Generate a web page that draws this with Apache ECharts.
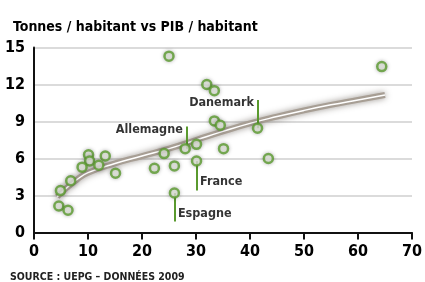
<!DOCTYPE html>
<html>
<head>
<meta charset="utf-8">
<script src="https://cdn.jsdelivr.net/npm/echarts@6/dist/echarts.min.js"></script>
<style>
  html, body { margin: 0; padding: 0; background: #fff; }
  #chart { width: 425px; height: 282px; }
</style>
</head>
<body>
<div id="chart"></div>
<script>
// PIB / habitant (x) vs tonnes / habitant (y)
var countries = [
    [25.0, 14.3], [32.0, 12.0], [33.4, 11.5], [64.4, 13.45],
    [33.4, 9.05], [34.5, 8.7], [41.4, 8.45],
    [10.1, 6.3], [13.2, 6.2], [10.3, 5.8], [8.9, 5.3], [12.0, 5.45],
    [15.1, 4.8], [6.8, 4.2], [4.9, 3.4], [4.6, 2.15], [6.3, 1.8],
    [24.1, 6.4], [22.3, 5.2], [26.0, 5.4], [28.0, 6.8], [30.1, 7.15],
    [30.1, 5.8], [26.0, 3.2], [35.1, 6.8], [43.4, 6.0]
];
// courbe de tendance
var trend = [
    [4.3, 2.9], [6, 3.6], [8, 4.3], [10, 4.85], [15, 5.6], [20, 6.2], [25, 6.8],
    [30, 7.5], [35, 8.2], [40, 8.85], [45, 9.4], [50, 9.9], [55, 10.35],
    [60, 10.75], [65, 11.15]
];
// pays nommés : point, extrémité du trait, position du texte
var named = [
    { name: "Danemark", from: [41.4, 8.45], to: [41.4, 10.75], pos: "left", offset: [0, 3] },
    { name: "Allemagne", from: [28.2, 6.8], to: [28.2, 8.6], pos: "left", offset: [0, 3] },
    { name: "France", from: [30.1, 5.8], to: [30.1, 3.4], pos: "right", offset: [0, -9] },
    { name: "Espagne", from: [26.0, 3.2], to: [26.0, 0.9], pos: "right", offset: [0, -8] }
];
var xTicks = { min: 0, max: 70, interval: 10 };
var yTicks = { min: 0, max: 15, interval: 3 };

var font = '"DejaVu Sans Condensed", "Liberation Sans Narrow", "DejaVu Sans", sans-serif';
var green = "#5a9a2e";

var myChart = echarts.init(document.getElementById("chart"), null, { renderer: "canvas" });

myChart.setOption({
    animation: false,
    title: {
        text: "Tonnes / habitant vs PIB / habitant",
        left: 8,
        top: 15,
        textStyle: { fontFamily: font, fontWeight: "bold", fontSize: 14, color: "#000" }
    },
    graphic: [{
        type: "text",
        left: 10,
        top: 272,
        style: { text: "SOURCE : UEPG – DONNÉES 2009", font: "bold 10.5px " + font, fill: "#222" }
    }],
    grid: { left: 34, right: 6.5, top: 47.5, bottom: 49.5 },
    xAxis: {
        type: "value",
        min: xTicks.min, max: xTicks.max, interval: xTicks.interval,
        axisLine: { lineStyle: { color: "#111", width: 2 } },
        axisTick: { show: true, length: 7, lineStyle: { color: "#111", width: 2 } },
        splitLine: { show: false },
        axisLabel: { margin: 11, fontFamily: font, fontWeight: "bold", fontSize: 16, color: "#000" }
    },
    yAxis: {
        type: "value",
        min: yTicks.min, max: yTicks.max, interval: yTicks.interval,
        axisLine: { show: true, lineStyle: { color: "#111", width: 2 } },
        axisTick: { show: false },
        splitLine: { lineStyle: { color: "#cfcfcf", width: 1.5 } },
        axisLabel: { margin: 9, fontFamily: font, fontWeight: "bold", fontSize: 16, color: "#000" }
    },
    series: [
        {
            type: "line",
            data: trend,
            smooth: true,
            symbol: "none",
            z: 2,
            lineStyle: { color: "#a79e94", width: 6, shadowColor: "rgba(60,50,40,0.5)", shadowBlur: 6 }
        },
        {
            type: "line",
            data: trend,
            smooth: true,
            symbol: "none",
            z: 3,
            lineStyle: { color: "#ffffff", width: 1.5 }
        },
        {
            type: "lines",
            coordinateSystem: "cartesian2d",
            z: 4,
            lineStyle: { color: green, width: 2, opacity: 1 },
            data: named.map(function (n) { return { coords: [n.from, n.to] }; })
        },
        {
            type: "scatter",
            data: countries,
            symbolSize: 9,
            z: 5,
            itemStyle: {
                color: "#f4f8ee",
                borderColor: green,
                borderWidth: 2.5,
                shadowColor: "rgba(0,0,0,0.3)",
                shadowBlur: 4
            }
        },
        {
            type: "scatter",
            data: named.map(function (n) {
                return {
                    value: n.to,
                    label: { show: true, formatter: n.name, position: n.pos, distance: 3, offset: n.offset }
                };
            }),
            symbolSize: 1,
            z: 6,
            itemStyle: { color: "rgba(0,0,0,0)" },
            label: { fontFamily: font, fontWeight: "bold", fontSize: 12.5, color: "#000" }
        }
    ]
});
</script>
</body>
</html>
